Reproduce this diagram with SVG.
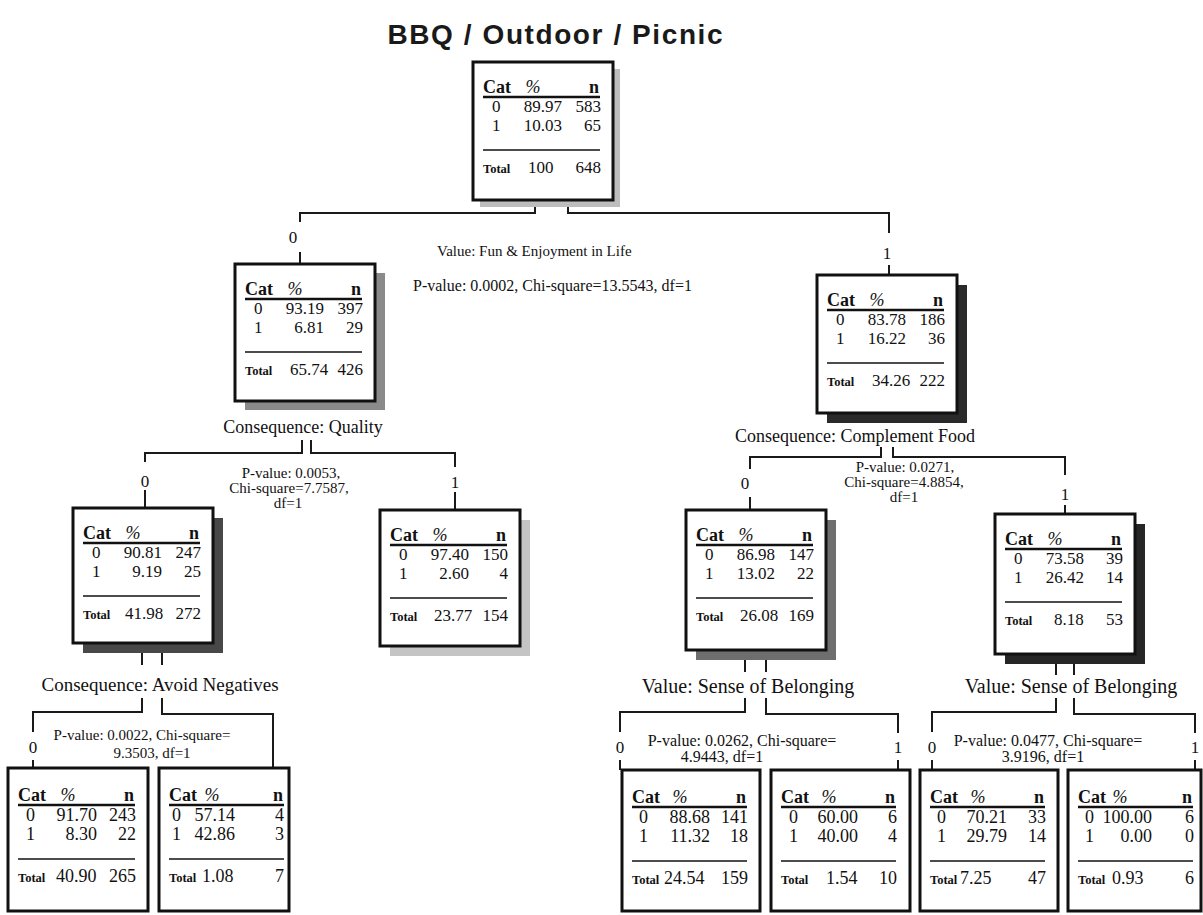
<svg xmlns="http://www.w3.org/2000/svg" width="1203" height="915" viewBox="0 0 1203 915">
<style>
text{font-family:"Liberation Serif","Times New Roman",serif;fill:#111}
.title{font-family:"Liberation Sans",Arial,sans-serif;font-weight:bold;font-size:28px;fill:#1a1a1a}
.box{fill:#fff;stroke:#111;stroke-width:3}
.hd{font-weight:bold;font-size:18px}
.hdi{font-style:italic;font-size:18px}
.v{font-size:17px}
.lv{font-size:18px}
.tot{font-weight:bold;font-size:12.5px}
.ul{stroke:#111;stroke-width:2.5}
.sep{stroke:#111;stroke-width:1.5}
.e{text-anchor:end}
.m{text-anchor:middle}
.lbl{font-size:18px;text-anchor:middle}
.lbl2{font-size:20px;text-anchor:middle}
.top{font-size:16px}
.pv{font-size:15px;text-anchor:middle}
.pv2{font-size:16px;text-anchor:middle}
.br{font-size:17px;text-anchor:middle}
#connectors path{fill:none;stroke:#1a1a1a;stroke-width:2}
</style>

<text class="title m" x="555" y="44" textLength="335" lengthAdjust="spacing">BBQ / Outdoor / Picnic</text>

<g id="connectors">
<path d="M535,206V213H300V222M300,252V264"/>
<path d="M568,206V213H889V233M889,265V275"/>
<path d="M302,440V453H145V462M145,490V508"/>
<path d="M311,440V453H455V467M455,492V510"/>
<path d="M881,447V457H750V469M750,497V510"/>
<path d="M893,447V457H1065V475M1065,505V514"/>
<path d="M142,653V665M162,653V665"/>
<path d="M142,698V712H33V732M33,760V768"/>
<path d="M162,698V714H273V768"/>
<path d="M745,660V672M766,660V672"/>
<path d="M745,698V712H620V732M620,760V770"/>
<path d="M766,698V714H898V733M898,760V770"/>
<path d="M1056,664V675M1074,664V675"/>
<path d="M1056,698V712H932V732M932,760V770"/>
<path d="M1074,698V714H1195V733M1195,760V770"/>
</g>

<g id="labels">
<text class="br" x="293" y="243">0</text>
<text class="br" x="887" y="259">1</text>
<text class="top" x="437" y="256" style="font-size:15px">Value: Fun &amp; Enjoyment in  Life</text>
<text class="top" x="413" y="291">P-value: 0.0002, Chi-square=13.5543, df=1</text>
<text class="lbl" x="303" y="433">Consequence: Quality</text>
<text class="br" x="145" y="487">0</text>
<text class="br" x="455" y="488">1</text>
<text class="pv" x="291" y="478">P-value: 0.0053,</text>
<text class="pv" x="289" y="493">Chi-square=7.7587,</text>
<text class="pv" x="288" y="508">df=1</text>
<text class="lbl" x="855" y="442">Consequence: Complement Food</text>
<text class="br" x="745" y="489">0</text>
<text class="br" x="1065" y="500">1</text>
<text class="pv" x="905" y="472">P-value: 0.0271,</text>
<text class="pv" x="904" y="487">Chi-square=4.8854,</text>
<text class="pv" x="904" y="502">df=1</text>
<text class="lbl" x="160" y="691" style="font-size:19px">Consequence: Avoid Negatives</text>
<text class="br" x="33" y="753">0</text>
<text class="pv" x="142" y="740">P-value: 0.0022, Chi-square=</text>
<text class="pv" x="152" y="758">9.3503,  df=1</text>
<text class="lbl2" x="748" y="693">Value: Sense of  Belonging</text>
<text class="br" x="620" y="753">0</text>
<text class="br" x="898" y="753">1</text>
<text class="pv2" x="742" y="746">P-value: 0.0262,  Chi-square=</text>
<text class="pv2" x="722" y="762">4.9443,  df=1</text>
<text class="lbl2" x="1071" y="693">Value: Sense of Belonging</text>
<text class="br" x="932" y="753">0</text>
<text class="br" x="1195" y="753">1</text>
<text class="pv2" x="1048" y="746">P-value: 0.0477,  Chi-square=</text>
<text class="pv2" x="1043" y="762">3.9196,  df=1</text>
</g>

<g id="node-root">
<rect x="480" y="69" width="140" height="138" fill="#bdbdbd"/>
<rect class="box" x="473" y="62" width="140" height="138"/>
<text class="hd" x="483" y="93">Cat</text><text class="hdi m" x="533" y="93">%</text><text class="hd e" x="599" y="93">n</text>
<line class="ul" x1="483" y1="97" x2="600" y2="97"/>
<text class="v" x="492" y="112">0</text><text class="v e" x="562" y="112">89.97</text><text class="v e" x="601" y="112">583</text>
<text class="v" x="492" y="131">1</text><text class="v e" x="562" y="131">10.03</text><text class="v e" x="601" y="131">65</text>
<line class="sep" x1="483" y1="150" x2="600" y2="150"/>
<text class="tot" x="483" y="173">Total</text><text class="v" x="528" y="173">100</text><text class="v e" x="601" y="173">648</text>
</g>

<g id="node-L">
<rect x="245" y="273" width="140" height="137" fill="#8a8a8a"/>
<rect class="box" x="235" y="264" width="140" height="137"/>
<text class="hd" x="245" y="295">Cat</text><text class="hdi m" x="295" y="295">%</text><text class="hd e" x="361" y="295">n</text>
<line class="ul" x1="245" y1="299" x2="362" y2="299"/>
<text class="v" x="254" y="314">0</text><text class="v e" x="324" y="314">93.19</text><text class="v e" x="363" y="314">397</text>
<text class="v" x="254" y="333">1</text><text class="v e" x="324" y="333">6.81</text><text class="v e" x="363" y="333">29</text>
<line class="sep" x1="245" y1="352" x2="362" y2="352"/>
<text class="tot" x="245" y="375">Total</text><text class="v" x="290" y="375">65.74</text><text class="v e" x="363" y="375">426</text>
</g>

<g id="node-R">
<rect x="827" y="285" width="140" height="138" fill="#2a2a2a"/>
<rect class="box" x="817" y="275" width="140" height="138"/>
<text class="hd" x="827" y="306">Cat</text><text class="hdi m" x="877" y="306">%</text><text class="hd e" x="943" y="306">n</text>
<line class="ul" x1="827" y1="310" x2="944" y2="310"/>
<text class="v" x="836" y="325">0</text><text class="v e" x="906" y="325">83.78</text><text class="v e" x="945" y="325">186</text>
<text class="v" x="836" y="344">1</text><text class="v e" x="906" y="344">16.22</text><text class="v e" x="945" y="344">36</text>
<line class="sep" x1="827" y1="363" x2="944" y2="363"/>
<text class="tot" x="827" y="386">Total</text><text class="v" x="872" y="386">34.26</text><text class="v e" x="945" y="386">222</text>
</g>

<g id="node-LL">
<rect x="83" y="518" width="140" height="135" fill="#484848"/>
<rect class="box" x="73" y="508" width="140" height="135"/>
<text class="hd" x="83" y="539">Cat</text><text class="hdi m" x="133" y="539">%</text><text class="hd e" x="199" y="539">n</text>
<line class="ul" x1="83" y1="543" x2="200" y2="543"/>
<text class="v" x="92" y="558">0</text><text class="v e" x="162" y="558">90.81</text><text class="v e" x="201" y="558">247</text>
<text class="v" x="92" y="577">1</text><text class="v e" x="162" y="577">9.19</text><text class="v e" x="201" y="577">25</text>
<line class="sep" x1="83" y1="596" x2="200" y2="596"/>
<text class="tot" x="83" y="619">Total</text><text class="v" x="125" y="619">41.98</text><text class="v e" x="201" y="619">272</text>
</g>

<g id="node-LR">
<rect x="390" y="520" width="140" height="136" fill="#c4c4c4"/>
<rect class="box" x="380" y="510" width="140" height="136"/>
<text class="hd" x="390" y="541">Cat</text><text class="hdi m" x="440" y="541">%</text><text class="hd e" x="506" y="541">n</text>
<line class="ul" x1="390" y1="545" x2="507" y2="545"/>
<text class="v" x="399" y="560">0</text><text class="v e" x="469" y="560">97.40</text><text class="v e" x="508" y="560">150</text>
<text class="v" x="399" y="579">1</text><text class="v e" x="469" y="579">2.60</text><text class="v e" x="508" y="579">4</text>
<line class="sep" x1="390" y1="598" x2="507" y2="598"/>
<text class="tot" x="390" y="621">Total</text><text class="v" x="434" y="621">23.77</text><text class="v e" x="508" y="621">154</text>
</g>

<g id="node-RL">
<rect x="696" y="520" width="140" height="140" fill="#6e6e6e"/>
<rect class="box" x="686" y="510" width="140" height="140"/>
<text class="hd" x="696" y="541">Cat</text><text class="hdi m" x="746" y="541">%</text><text class="hd e" x="812" y="541">n</text>
<line class="ul" x1="696" y1="545" x2="813" y2="545"/>
<text class="v" x="705" y="560">0</text><text class="v e" x="775" y="560">86.98</text><text class="v e" x="814" y="560">147</text>
<text class="v" x="705" y="579">1</text><text class="v e" x="775" y="579">13.02</text><text class="v e" x="814" y="579">22</text>
<line class="sep" x1="696" y1="598" x2="813" y2="598"/>
<text class="tot" x="696" y="621">Total</text><text class="v" x="740" y="621">26.08</text><text class="v e" x="814" y="621">169</text>
</g>

<g id="node-RR">
<rect x="1005" y="524" width="140" height="140" fill="#262626"/>
<rect class="box" x="995" y="514" width="140" height="140"/>
<text class="hd" x="1005" y="545">Cat</text><text class="hdi m" x="1055" y="545">%</text><text class="hd e" x="1121" y="545">n</text>
<line class="ul" x1="1005" y1="549" x2="1122" y2="549"/>
<text class="v" x="1014" y="564">0</text><text class="v e" x="1084" y="564">73.58</text><text class="v e" x="1123" y="564">39</text>
<text class="v" x="1014" y="583">1</text><text class="v e" x="1084" y="583">26.42</text><text class="v e" x="1123" y="583">14</text>
<line class="sep" x1="1005" y1="602" x2="1122" y2="602"/>
<text class="tot" x="1005" y="625">Total</text><text class="v" x="1054" y="625">8.18</text><text class="v e" x="1123" y="625">53</text>
</g>

<g id="node-LLL">
<rect class="box" x="8" y="768" width="140" height="143"/>
<text class="hd" x="18" y="801">Cat</text><text class="hdi m" x="68" y="801">%</text><text class="hd e" x="134" y="801">n</text>
<line class="ul" x1="18" y1="805" x2="135" y2="805"/>
<text class="lv" x="26" y="821">0</text><text class="lv e" x="97" y="821">91.70</text><text class="lv e" x="136" y="821">243</text>
<text class="lv" x="26" y="840">1</text><text class="lv e" x="97" y="840">8.30</text><text class="lv e" x="136" y="840">22</text>
<line class="sep" x1="18" y1="859" x2="135" y2="859"/>
<text class="tot" x="18" y="882">Total</text><text class="lv" x="56" y="882">40.90</text><text class="lv e" x="136" y="882">265</text>
</g>

<g id="node-LLR">
<rect class="box" x="159" y="768" width="130" height="143"/>
<text class="hd" x="169" y="801">Cat</text><text class="hdi m" x="212" y="801">%</text><text class="hd e" x="283" y="801">n</text>
<line class="ul" x1="169" y1="805" x2="284" y2="805"/>
<text class="lv" x="172" y="821">0</text><text class="lv e" x="235" y="821">57.14</text><text class="lv e" x="284" y="821">4</text>
<text class="lv" x="172" y="840">1</text><text class="lv e" x="235" y="840">42.86</text><text class="lv e" x="284" y="840">3</text>
<line class="sep" x1="169" y1="859" x2="284" y2="859"/>
<text class="tot" x="169" y="882">Total</text><text class="lv" x="202" y="882">1.08</text><text class="lv e" x="284" y="882">7</text>
</g>

<g id="node-RLL">
<rect class="box" x="622" y="770" width="138" height="141"/>
<text class="hd" x="632" y="803">Cat</text><text class="hdi m" x="680" y="803">%</text><text class="hd e" x="746" y="803">n</text>
<line class="ul" x1="632" y1="807" x2="747" y2="807"/>
<text class="lv" x="639" y="823">0</text><text class="lv e" x="710" y="823">88.68</text><text class="lv e" x="748" y="823">141</text>
<text class="lv" x="639" y="842">1</text><text class="lv e" x="710" y="842">11.32</text><text class="lv e" x="748" y="842">18</text>
<line class="sep" x1="632" y1="861" x2="747" y2="861"/>
<text class="tot" x="632" y="884">Total</text><text class="lv" x="664" y="884">24.54</text><text class="lv e" x="748" y="884">159</text>
</g>

<g id="node-RLR">
<rect class="box" x="771" y="770" width="139" height="141"/>
<text class="hd" x="781" y="803">Cat</text><text class="hdi m" x="829" y="803">%</text><text class="hd e" x="895" y="803">n</text>
<line class="ul" x1="781" y1="807" x2="896" y2="807"/>
<text class="lv" x="789" y="823">0</text><text class="lv e" x="858" y="823">60.00</text><text class="lv e" x="897" y="823">6</text>
<text class="lv" x="789" y="842">1</text><text class="lv e" x="858" y="842">40.00</text><text class="lv e" x="897" y="842">4</text>
<line class="sep" x1="781" y1="861" x2="896" y2="861"/>
<text class="tot" x="781" y="884">Total</text><text class="lv" x="826" y="884">1.54</text><text class="lv e" x="897" y="884">10</text>
</g>

<g id="node-RRL">
<rect class="box" x="920" y="770" width="138" height="141"/>
<text class="hd" x="930" y="803">Cat</text><text class="hdi m" x="978" y="803">%</text><text class="hd e" x="1044" y="803">n</text>
<line class="ul" x1="930" y1="807" x2="1045" y2="807"/>
<text class="lv" x="937" y="823">0</text><text class="lv e" x="1007" y="823">70.21</text><text class="lv e" x="1046" y="823">33</text>
<text class="lv" x="937" y="842">1</text><text class="lv e" x="1007" y="842">29.79</text><text class="lv e" x="1046" y="842">14</text>
<line class="sep" x1="930" y1="861" x2="1045" y2="861"/>
<text class="tot" x="930" y="884">Total</text><text class="lv" x="960" y="884">7.25</text><text class="lv e" x="1046" y="884">47</text>
</g>

<g id="node-RRR">
<rect class="box" x="1068" y="770" width="133" height="141"/>
<text class="hd" x="1078" y="803">Cat</text><text class="hdi m" x="1120" y="803">%</text><text class="hd e" x="1192" y="803">n</text>
<line class="ul" x1="1078" y1="807" x2="1193" y2="807"/>
<text class="lv" x="1085" y="823">0</text><text class="lv e" x="1152" y="823">100.00</text><text class="lv e" x="1194" y="823">6</text>
<text class="lv" x="1085" y="842">1</text><text class="lv e" x="1152" y="842">0.00</text><text class="lv e" x="1194" y="842">0</text>
<line class="sep" x1="1078" y1="861" x2="1193" y2="861"/>
<text class="tot" x="1078" y="884">Total</text><text class="lv" x="1112" y="884">0.93</text><text class="lv e" x="1194" y="884">6</text>
</g>
</svg>
